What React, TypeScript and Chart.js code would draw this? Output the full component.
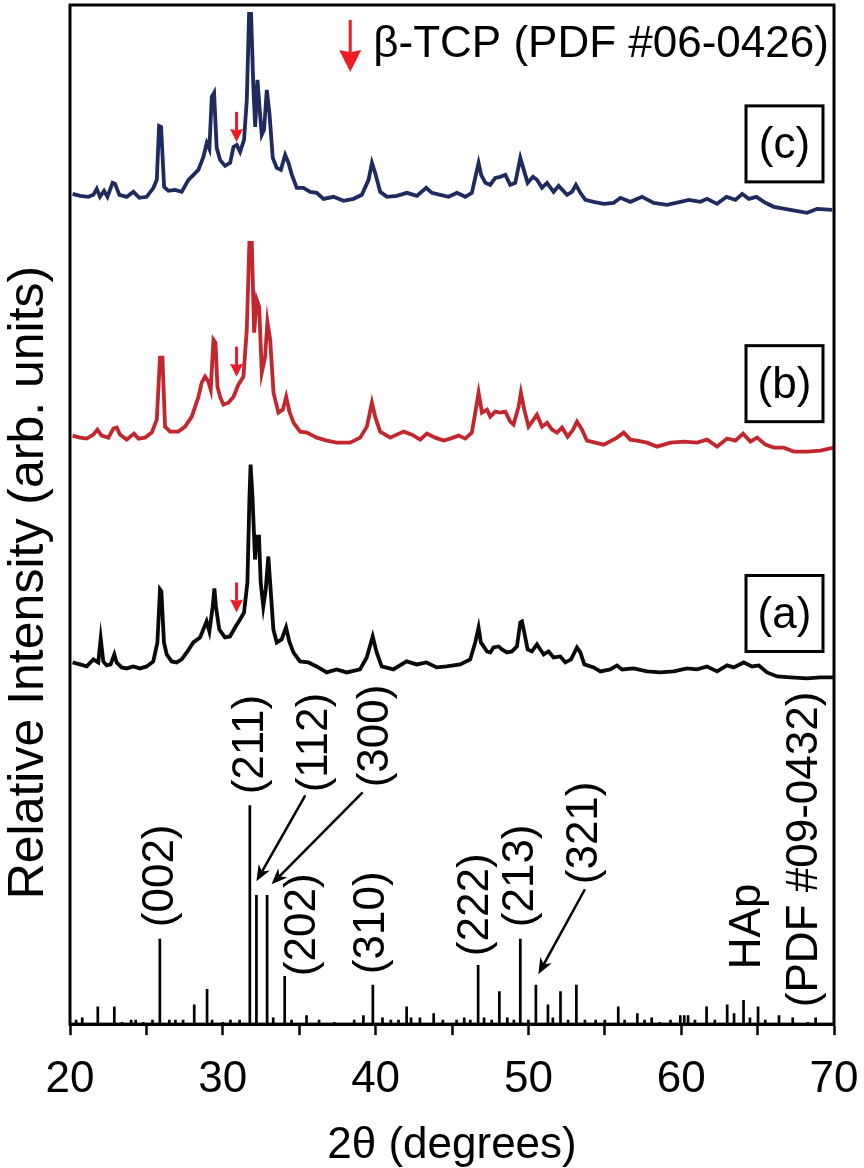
import React, { useEffect, useRef } from 'react';
import { Chart, registerables } from 'chart.js';

Chart.register(...registerables);

const FONT = '"Liberation Sans", Arial, Helvetica, sans-serif';

// ---- x axis ----
const xMin = 20;
const xMax = 70;
const xLabelTicks = [20, 30, 40, 50, 60, 70];

// ---- sample (a): black ----
const twoThetaA = [20.17, 20.65, 21.09, 21.53, 21.85, 22.01, 22.18, 22.4, 22.66, 22.9, 23.05, 23.38, 23.71, 24.14, 24.58, 25.02, 25.45, 25.72, 25.89, 25.98, 26.15, 26.33, 26.65, 26.98, 27.31, 27.64, 28.07, 28.51, 28.94, 29.12, 29.34, 29.45, 29.55, 29.77, 30.14, 30.47, 30.8, 31.13, 31.39, 31.61, 31.74, 31.82, 31.95, 32.11, 32.22, 32.37, 32.48, 32.65, 32.81, 32.98, 33.13, 33.31, 33.53, 33.85, 34.14, 34.35, 34.62, 35.05, 35.6, 36.14, 36.8, 37.45, 38.11, 38.98, 39.42, 39.81, 40.07, 40.4, 41.16, 42.03, 42.69, 43.33, 44.0, 44.65, 45.54, 46.19, 46.52, 46.74, 46.89, 47.07, 47.29, 47.5, 47.72, 48.05, 48.27, 48.6, 48.92, 49.25, 49.47, 49.58, 49.73, 49.95, 50.23, 50.56, 50.78, 51.0, 51.32, 51.65, 52.09, 52.42, 52.79, 53.18, 53.4, 53.66, 54.27, 54.71, 55.36, 55.8, 56.13, 56.89, 57.76, 58.64, 59.51, 60.38, 61.04, 61.69, 62.35, 63.0, 63.44, 64.09, 64.64, 65.08, 65.62, 66.28, 67.15, 68.24, 69.11, 69.99];
const intensityA = [22, 20, 18, 25, 22, 46, 23, 19, 20, 30, 22, 17, 16, 18, 16, 18, 23, 42, 95, 93, 42, 30, 23, 22, 25, 32, 42, 47, 63, 53, 78, 96, 78, 55, 47, 48, 57, 65, 72, 102, 185, 220, 185, 125, 148, 148, 102, 78, 95, 128, 95, 55, 42, 45, 57, 43, 32, 23, 22, 18, 12, 15, 12, 15, 27, 48, 32, 18, 15, 23, 20, 22, 17, 18, 20, 25, 42, 57, 42, 38, 33, 32, 37, 38, 35, 32, 33, 38, 62, 63, 52, 35, 33, 40, 35, 30, 33, 27, 28, 22, 25, 37, 32, 20, 17, 13, 15, 19, 15, 16, 13, 12, 13, 16, 15, 18, 13, 19, 17, 22, 18, 19, 12, 8, 7, 6, 7, 7];
const offsetA = 340;

// ---- sample (b): red ----
const twoThetaB = [20.17, 20.66, 21.09, 21.53, 21.79, 22.07, 22.51, 22.84, 23.06, 23.27, 23.71, 24.19, 24.48, 24.91, 25.35, 25.68, 25.89, 26.05, 26.22, 26.55, 27.09, 27.53, 27.97, 28.41, 28.62, 28.84, 29.06, 29.21, 29.39, 29.52, 29.65, 29.82, 30.04, 30.37, 30.7, 31.02, 31.35, 31.57, 31.74, 31.9, 32.05, 32.22, 32.38, 32.55, 32.77, 32.92, 33.1, 33.32, 33.64, 33.93, 34.15, 34.36, 34.63, 35.06, 35.5, 36.15, 36.81, 37.46, 38.34, 38.99, 39.43, 39.76, 39.97, 40.3, 40.96, 41.83, 42.38, 42.92, 43.36, 43.9, 44.45, 44.88, 45.43, 45.87, 46.3, 46.59, 46.74, 46.96, 47.29, 47.5, 47.83, 48.16, 48.49, 48.81, 49.03, 49.36, 49.51, 49.73, 50.01, 50.34, 50.56, 50.89, 51.22, 51.54, 51.87, 52.2, 52.57, 52.92, 53.18, 53.51, 53.83, 54.93, 55.8, 56.24, 56.67, 57.11, 57.76, 58.42, 59.29, 60.16, 61.04, 61.69, 62.35, 63.0, 63.55, 64.05, 64.53, 64.97, 65.51, 66.06, 66.71, 67.37, 68.24, 69.11, 69.99];
const intensityB = [24, 22, 21, 25, 30, 24, 22, 31, 32, 25, 20, 26, 21, 22, 27, 40, 102, 102, 33, 28, 28, 33, 43, 63, 77, 83, 78, 70, 120, 117, 73, 63, 55, 57, 63, 75, 83, 130, 217, 217, 127, 160, 153, 87, 103, 138, 120, 67, 47, 50, 63, 48, 37, 28, 27, 22, 19, 17, 17, 22, 33, 57, 43, 28, 22, 28, 25, 20, 26, 22, 19, 21, 24, 21, 27, 53, 67, 47, 50, 43, 48, 47, 48, 38, 35, 53, 67, 50, 33, 40, 45, 33, 37, 30, 27, 32, 23, 30, 38, 30, 19, 15, 22, 27, 20, 19, 17, 13, 17, 18, 17, 20, 13, 21, 19, 26, 18, 22, 15, 12, 12, 8, 8, 9, 12];
const offsetB = 565;

// ---- sample (c): navy ----
const twoThetaC = [20.17, 20.66, 21.2, 21.53, 21.75, 21.96, 22.23, 22.45, 22.79, 22.95, 23.23, 23.71, 24.15, 24.54, 25.02, 25.46, 25.68, 25.83, 25.96, 26.16, 26.44, 26.88, 27.31, 27.75, 28.08, 28.4, 28.73, 28.95, 29.12, 29.28, 29.43, 29.6, 29.82, 30.15, 30.48, 30.7, 30.91, 31.13, 31.39, 31.57, 31.72, 31.85, 32.0, 32.12, 32.27, 32.4, 32.55, 32.7, 32.88, 33.05, 33.27, 33.53, 33.8, 34.08, 34.3, 34.52, 34.84, 35.28, 35.72, 36.15, 36.59, 37.25, 37.9, 38.55, 39.1, 39.54, 39.76, 39.97, 40.3, 40.74, 41.39, 42.05, 42.7, 43.31, 43.68, 44.23, 44.78, 45.32, 45.87, 46.3, 46.59, 46.74, 46.91, 47.18, 47.5, 47.83, 48.16, 48.49, 48.81, 49.14, 49.47, 49.64, 49.95, 50.3, 50.56, 50.89, 51.22, 51.65, 51.98, 52.53, 52.85, 53.11, 53.4, 53.73, 54.27, 54.93, 55.58, 56.02, 56.67, 57.44, 58.2, 59.07, 59.95, 60.49, 61.26, 61.69, 62.35, 62.96, 63.55, 63.99, 64.42, 64.92, 65.51, 66.06, 67.15, 68.24, 68.9, 69.88];
const intensityC = [26, 24, 23, 25, 31, 23, 29, 23, 37, 36, 25, 23, 28, 22, 23, 32, 40, 94, 93, 33, 29, 30, 28, 40, 45, 50, 63, 77, 71, 123, 127, 72, 60, 54, 57, 73, 75, 68, 80, 120, 206, 206, 133, 93, 140, 113, 85, 90, 130, 107, 62, 52, 50, 65, 57, 45, 32, 32, 28, 27, 21, 23, 19, 21, 25, 40, 57, 47, 28, 23, 24, 27, 24, 32, 27, 25, 23, 27, 23, 27, 47, 57, 45, 37, 35, 42, 43, 45, 35, 37, 62, 53, 37, 43, 40, 32, 37, 28, 34, 25, 28, 35, 27, 20, 18, 16, 17, 22, 18, 23, 17, 15, 18, 20, 18, 21, 16, 23, 20, 26, 21, 23, 17, 13, 10, 7, 11, 10];
const offsetC = 805;

// ---- HAp reference pattern (PDF #09-0432), relative intensity % ----
const hapTwoTheta = [20.4, 20.8, 21.82, 22.9, 23.4, 24.0, 24.3, 24.8, 25.4, 25.88, 26.5, 26.9, 27.4, 28.13, 28.97, 29.3, 30.0, 30.5, 31.1, 31.77, 32.2, 32.9, 33.3, 34.05, 34.5, 35.48, 36.3, 37.3, 38.6, 39.2, 39.82, 40.45, 41.0, 41.5, 42.03, 42.32, 42.9, 43.8, 44.4, 45.3, 45.8, 46.2, 46.71, 47.1, 47.6, 48.1, 48.62, 49.05, 49.47, 50.0, 50.49, 51.28, 51.6, 52.1, 52.6, 53.14, 53.7, 54.4, 55.0, 55.88, 56.3, 57.13, 57.6, 58.07, 58.6, 59.3, 59.94, 60.2, 60.45, 60.9, 61.66, 62.2, 63.01, 63.46, 64.08, 64.5, 65.03, 65.5, 66.4, 67.3, 68.3, 68.8];
const hapIntensity = [2, 3, 8, 8, 1, 2, 2, 1, 2, 39, 2, 2, 2, 9, 16, 2, 1, 2, 2, 100, 59, 59, 3, 22, 2, 4, 2, 1, 2, 4, 18, 3, 2, 2, 8, 3, 3, 5, 2, 2, 3, 2, 27, 3, 2, 15, 3, 2, 39, 2, 18, 9, 3, 15, 2, 18, 2, 2, 2, 8, 2, 5, 2, 3, 1, 2, 4, 4, 4, 2, 8, 2, 9, 5, 11, 3, 8, 2, 4, 3, 1, 3];
const hapScale = 2.19;

// ---- hkl labels ----
const hklLabels = ['(002)', '(211)', '(112)', '(300)', '(202)', '(310)', '(222)', '(213)', '(321)'];
const hklLabelX = [26.02, 31.89, 36.1, 40.09, 35.31, 39.8, 46.62, 49.61, 53.77];
const hklLabelY = [97, 230, 232, 237, 48, 50, 68, 97, 140];
const leaderFrom = [[35.4, 229], [39.15, 232], [53.7, 135]];
const leaderTo = [[32.2, 143], [33.19, 140], [50.65, 50]];

// ---- β-TCP markers ----
const tcpTwoTheta = 30.9;
const tcpArrowTips = [412, 648, 883];
const legendArrowX = 38.34;
const legendArrowY = [1005, 953];
const legendText = 'β-TCP (PDF #06-0426)';

// ---- panel boxes ----
const panelLabels = ['(a)', '(b)', '(c)'];
const panelCenterY = [411, 641, 881];

const yMax = 1020;

function toPoints(xs: number[], ys: number[], off: number) {
  return xs.map((x, i) => ({ x, y: ys[i] + off }));
}

function arrow(ctx: CanvasRenderingContext2D, x1: number, y1: number, x2: number, y2: number, lw: number, headLen: number, headW: number, color: string, notch = 0.25) {
  const ang = Math.atan2(y2 - y1, x2 - x1);
  const c = Math.cos(ang), s = Math.sin(ang);
  const bx = x2 - headLen * c, by = y2 - headLen * s;
  const nx = x2 - headLen * (1 - notch) * c, ny = y2 - headLen * (1 - notch) * s;
  ctx.strokeStyle = color;
  ctx.fillStyle = color;
  ctx.lineWidth = lw;
  ctx.lineCap = 'butt';
  ctx.beginPath();
  ctx.moveTo(x1, y1);
  ctx.lineTo(nx, ny);
  ctx.stroke();
  ctx.beginPath();
  ctx.moveTo(x2, y2);
  ctx.lineTo(bx + (headW / 2) * s, by - (headW / 2) * c);
  ctx.lineTo(nx, ny);
  ctx.lineTo(bx - (headW / 2) * s, by + (headW / 2) * c);
  ctx.closePath();
  ctx.fill();
}

const annotatePlugin = {
  id: 'annotate',
  afterDatasetsDraw(chart: any) {
    const { ctx, chartArea: a, scales } = chart;
    const x = scales.x;
    const y = scales.y;
    ctx.save();

    // frame
    ctx.strokeStyle = '#000';
    ctx.lineWidth = 3;
    ctx.strokeRect(a.left, a.top, a.right - a.left, a.bottom - a.top);

    // y title
    ctx.save();
    ctx.translate(a.left - 41, (a.top + a.bottom) / 2 + 68);
    ctx.rotate(-Math.PI / 2);
    ctx.fillStyle = '#000';
    ctx.font = `50px ${FONT}`;
    ctx.textAlign = 'center';
    ctx.textBaseline = 'middle';
    ctx.fillText('Relative Intensity (arb. units)', 0, 0);
    ctx.restore();

    // β-TCP small arrows
    const tx = x.getPixelForValue(tcpTwoTheta);
    tcpArrowTips.forEach((tip) => {
      const py = y.getPixelForValue(tip);
      arrow(ctx, tx, py - 30, tx, py, 3, 13, 13, '#ed1c24', 0.1);
    });

    // legend
    const lx = x.getPixelForValue(legendArrowX);
    arrow(ctx, lx, y.getPixelForValue(legendArrowY[0]), lx, y.getPixelForValue(legendArrowY[1]), 3, 22, 22, '#ed1c24', 0.1);
    ctx.fillStyle = '#000';
    ctx.font = `44px ${FONT}`;
    ctx.textAlign = 'left';
    ctx.textBaseline = 'alphabetic';
    ctx.fillText(legendText, lx + 23, y.getPixelForValue(968));

    // panel boxes
    panelLabels.forEach((lab, i) => {
      const cy = y.getPixelForValue(panelCenterY[i]);
      const bx0 = a.right - 88, bw = 77, bh = 76;
      ctx.strokeStyle = '#000';
      ctx.lineWidth = 3;
      ctx.strokeRect(bx0, cy - bh / 2, bw, bh);
      ctx.fillStyle = '#000';
      ctx.font = `44px ${FONT}`;
      ctx.textAlign = 'center';
      ctx.textBaseline = 'middle';
      ctx.fillText(lab, bx0 + bw / 2, cy + 2);
    });

    // hkl labels (rotated)
    ctx.font = `44px ${FONT}`;
    ctx.fillStyle = '#000';
    const rotText = (txt: string, cx: number, bottom: number) => {
      ctx.save();
      ctx.translate(cx + 11, bottom);
      ctx.rotate(-Math.PI / 2);
      ctx.textAlign = 'left';
      ctx.textBaseline = 'alphabetic';
      ctx.fillText(txt, 0, 0);
      ctx.restore();
    };
    hklLabels.forEach((lab, i) => {
      rotText(lab, x.getPixelForValue(hklLabelX[i]), y.getPixelForValue(hklLabelY[i]));
    });
    rotText('HAp', x.getPixelForValue(64.44), y.getPixelForValue(55));
    rotText('(PDF #09-0432)', x.getPixelForValue(68.17), y.getPixelForValue(17));

    // leader arrows
    leaderFrom.forEach((f, i) => {
      const t = leaderTo[i];
      arrow(ctx, x.getPixelForValue(f[0]), y.getPixelForValue(f[1]), x.getPixelForValue(t[0]), y.getPixelForValue(t[1]), 2.5, 16, 13, '#000', 0.3);
    });

    ctx.restore();
  },
};

export default function App() {
  const ref = useRef<HTMLCanvasElement | null>(null);
  useEffect(() => {
    document.body.style.margin = '0';
    const canvas = ref.current;
    if (!canvas) return;
    const stickData: any[] = [];
    hapTwoTheta.forEach((t, i) => {
      stickData.push({ x: t, y: 0 });
      stickData.push({ x: t, y: hapIntensity[i] * hapScale });
      stickData.push({ x: t, y: null });
    });
    const chart = new Chart(canvas, {
      type: 'line',
      data: {
        datasets: [
          { label: 'HAp', data: stickData, borderColor: '#000', borderWidth: 2.7, pointRadius: 0, spanGaps: false, tension: 0 },
          { label: '(a)', data: toPoints(twoThetaA, intensityA, offsetA), borderColor: '#0a0a0a', borderWidth: 3.8, pointRadius: 0, tension: 0 },
          { label: '(b)', data: toPoints(twoThetaB, intensityB, offsetB), borderColor: '#c1272d', borderWidth: 3.8, pointRadius: 0, tension: 0 },
          { label: '(c)', data: toPoints(twoThetaC, intensityC, offsetC), borderColor: '#1f2a5e', borderWidth: 3.8, pointRadius: 0, tension: 0 },
        ],
      },
      options: {
        animation: false,
        responsive: false,
        devicePixelRatio: 1,
        layout: { padding: { left: 70, right: 30, top: 5, bottom: 0 } },
        plugins: { legend: { display: false }, tooltip: { enabled: false } },
        scales: {
          x: {
            type: 'linear',
            min: xMin,
            max: xMax,
            border: { display: true, color: '#000', width: 3 },
            grid: { drawOnChartArea: false, drawTicks: true, tickLength: 11, tickWidth: 2.5, tickColor: '#000', color: '#000' },
            ticks: {
              stepSize: 5,
              autoSkip: false,
              maxRotation: 0,
              padding: 0,
              color: '#000',
              font: { family: FONT, size: 44, lineHeight: 2.02 },
              callback: (v: any) => (xLabelTicks.includes(Number(v)) ? String(v) : ''),
            },
            title: {
              display: true,
              text: '2θ (degrees)',
              color: '#000',
              font: { family: FONT, size: 44, lineHeight: 1.0 },
              padding: { top: 0, bottom: 0 },
            },
          },
          y: {
            type: 'linear',
            display: false,
            min: 0,
            max: yMax,
          },
        },
      },
      plugins: [annotatePlugin],
    } as any);
    return () => chart.destroy();
  }, []);
  return (
    <div style={{ width: 864, height: 1168 }}>
      <canvas ref={ref} width={864} height={1168} style={{ width: 864, height: 1168, display: 'block' }} />
    </div>
  );
}
